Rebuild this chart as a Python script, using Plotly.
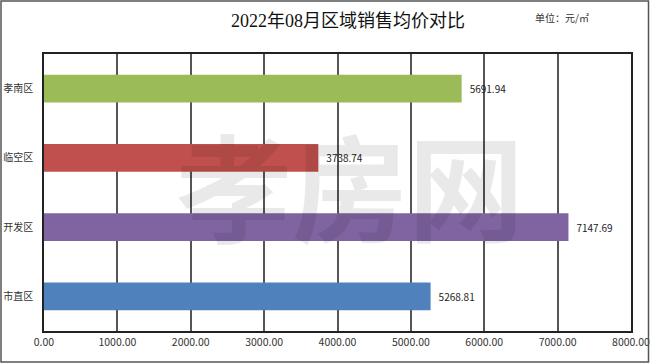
import plotly.graph_objects as go

categories = ["市直区", "开发区", "临空区", "孝南区"]
values = [5268.81, 7147.69, 3738.74, 5691.94]
colors = ["#4F81BD", "#8064A2", "#C0504D", "#9BBB59"]
x_ticks = [0, 1000, 2000, 3000, 4000, 5000, 6000, 7000, 8000]
title_text = "2022年08月区域销售均价对比"
unit_text = "单位：元/㎡"
watermark = "孝房网"

W, H = 650, 364
L, R, T, B = 44, 19, 54, 33
PW, PH = W - L - R, H - T - B

fig = go.Figure(go.Bar(
    x=values, y=categories, orientation="h",
    marker=dict(color=colors, line=dict(width=0)),
    text=["\u2002" + f"{v:.2f}" for v in values], textposition="outside",
    textfont=dict(size=10, color="#222", family="Noto Sans CJK SC"),
    cliponaxis=False,
))

fig.update_layout(
    width=W, height=H,
    margin=dict(l=L, r=R, t=T, b=B, autoexpand=False),
    paper_bgcolor="white", plot_bgcolor="white",
    bargap=0.6, showlegend=False,
    font=dict(family="Noto Sans CJK SC", color="#333"),
    title=dict(text=title_text, x=348 / W, xanchor="center", y=1 - 21 / H, yanchor="middle",
               font=dict(family="Liberation Serif, Noto Sans CJK SC", size=18, color="#111")),
    xaxis=dict(range=[0, 8000], tickvals=x_ticks, tickformat=".2f",
               showgrid=True, gridcolor="#555", gridwidth=1.5,
               showline=True, linecolor="#222", linewidth=1.5, mirror=True,
               ticks="", zeroline=False, fixedrange=True, automargin=False,
               ticklabelstandoff=1, ticklabeloverflow="allow",
               tickfont=dict(size=10.5, color="#333")),
    yaxis=dict(showline=True, linecolor="#222", linewidth=1.5, mirror=True,
               ticks="", showgrid=False, ticklabelstandoff=7, automargin=False,
               fixedrange=True, ticklabeloverflow="allow",
               tickfont=dict(size=10, color="#333")),
    shapes=[dict(type="rect", xref="paper", yref="paper",
                 x0=-(L - 1) / PW, x1=1 + (R - 1.5) / PW,
                 y0=-(B - 2) / PH, y1=1 + (T - 1) / PH,
                 line=dict(color="#555", width=1.5))],
    annotations=[
        dict(text=unit_text, xref="paper", yref="paper",
             x=(533 - L) / PW, y=(H - B - 17) / PH,
             xanchor="left", yanchor="middle", showarrow=False,
             font=dict(size=10, color="#333")),
        dict(text=f"<b>{watermark}</b>", xref="paper", yref="paper",
             x=(350 - L) / PW, y=(H - B - 182) / PH,
             xanchor="center", yanchor="middle", showarrow=False,
             font=dict(size=116, color="rgba(0,0,0,0.085)", family="Noto Sans CJK SC")),
    ],
)

fig.write_html("out.html", config={"displayModeBar": False},
               post_script="document.body.style.margin='0';document.body.style.overflow='hidden';")
